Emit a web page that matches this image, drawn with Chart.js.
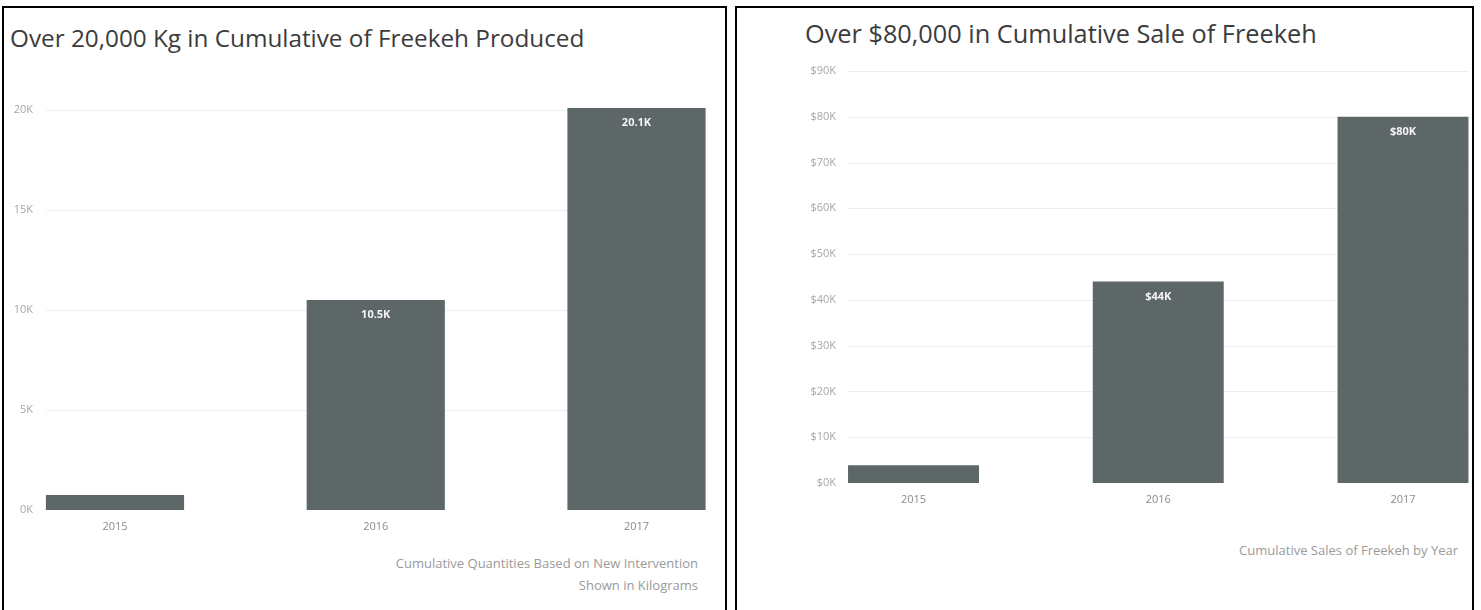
<!DOCTYPE html>
<html lang="en">
<head>
    <meta charset="UTF-8">
    <meta content="width=device-width, initial-scale=1.0" name="viewport">
    <title>Freekeh Production and Sales</title>
    <script src="https://cdn.jsdelivr.net/npm/chart.js"></script>
    <style>
        body {
            margin: 0;
            width: 1481px;
            height: 610px;
            overflow: hidden;
            position: relative;
            background: #fff;
            font-family: "Open Sans", Arial, sans-serif;
        }

        .panel {
            position: absolute;
            top: 6px;
            height: 620px;
            border: 2px solid #000;
            box-sizing: border-box;
        }

        .title {
            position: absolute;
            color: #3c3c3c;
            white-space: nowrap;
            line-height: 32px;
        }

        .caption {
            position: absolute;
            color: #9a9a9a;
            font-size: 13px;
            line-height: 22px;
            text-align: right;
            white-space: nowrap;
        }

        .chart-box {
            position: absolute;
        }
    </style>
</head>
<body>
<div class="panel" style="left: 2px; width: 725px;"></div>
<div class="panel" style="left: 735px; width: 739px;"></div>

<div class="title" style="left: 10px; top: 22px; font-size: 24.3px;">Over 20,000 Kg in Cumulative of Freekeh Produced</div>
<div class="title" style="left: 805px; top: 17px; font-size: 25.3px;">Over $80,000 in Cumulative Sale of Freekeh</div>

<div class="chart-box" style="left: 0; top: 90px; width: 727px; height: 450px;">
    <canvas id="producedChart"></canvas>
</div>
<div class="chart-box" style="left: 735px; top: 60px; width: 739px; height: 453px;">
    <canvas id="salesChart"></canvas>
</div>

<div class="caption" style="right: 783px; top: 552px;">Cumulative Quantities Based on New Intervention<br>Shown in Kilograms</div>
<div class="caption" style="right: 23px; top: 539px;">Cumulative Sales of Freekeh by Year</div>

<script>
    const years = ['2015', '2016', '2017'];
    const producedKg = [750, 10500, 20100];
    const salesUsd = [3900, 44000, 80000];

    const BAR_COLOR = '#5e6768';

    Chart.defaults.font.family = '"Open Sans", Arial, sans-serif';
    Chart.defaults.animation = false;

    // horizontal gridlines spanning from the first bar's left edge to the last bar's right edge
    const wideGrid = {
        id: 'wideGrid',
        beforeDatasetsDraw(chart) {
            const bars = chart.getDatasetMeta(0).data;
            const first = bars[0].getProps(['x', 'width'], true);
            const last = bars[bars.length - 1].getProps(['x', 'width'], true);
            const x0 = first.x - first.width / 2;
            const x1 = last.x + last.width / 2;
            const yScale = chart.scales.y;
            const ctx = chart.ctx;
            ctx.save();
            ctx.strokeStyle = '#eeeeee';
            ctx.lineWidth = 1;
            yScale.ticks.forEach(tick => {
                if (tick.value === 0) return;
                const py = Math.round(yScale.getPixelForValue(tick.value)) + 0.5;
                ctx.beginPath();
                ctx.moveTo(x0, py);
                ctx.lineTo(x1, py);
                ctx.stroke();
            });
            ctx.restore();
        }
    };

    // value labels printed inside the top of bars that are tall enough
    function makeBarLabels(format) {
        return {
            id: 'barLabels',
            afterDatasetsDraw(chart) {
                const ctx = chart.ctx;
                const values = chart.data.datasets[0].data;
                ctx.save();
                ctx.font = 'bold 11px "Open Sans", Arial, sans-serif';
                ctx.fillStyle = '#f4f4f4';
                ctx.textAlign = 'center';
                ctx.textBaseline = 'middle';
                chart.getDatasetMeta(0).data.forEach((bar, i) => {
                    if (bar.base - bar.y < 40) return;
                    ctx.fillText(format(values[i]), bar.x, bar.y + 15);
                });
                ctx.restore();
            }
        };
    }

    function createBarChart(canvas, values, cfg) {
        return new Chart(canvas, {
            type: 'bar',
            data: {
                labels: years,
                datasets: [{
                    data: values,
                    backgroundColor: BAR_COLOR,
                    categoryPercentage: 1,
                    barPercentage: cfg.barPct,
                    clip: false
                }]
            },
            options: {
                responsive: true,
                maintainAspectRatio: false,
                layout: {padding: cfg.padding},
                plugins: {
                    legend: {display: false},
                    tooltip: {enabled: false}
                },
                scales: {
                    x: {
                        offset: false,
                        grid: {display: false},
                        border: {display: false},
                        ticks: {color: '#8a8a8a', font: {size: 11}, padding: cfg.xPad},
                        afterFit: s => { s.height = 30; }
                    },
                    y: {
                        min: 0,
                        max: cfg.max,
                        grid: {display: false},
                        border: {display: false},
                        ticks: {
                            stepSize: cfg.step,
                            color: '#a6a6a6',
                            font: {size: 11},
                            padding: cfg.yPad,
                            callback: cfg.tickFormat
                        },
                        afterFit: s => {
                            // labels sit far left of the first bar; keep that gap out of the vertical padding
                            s.width = cfg.yWidth;
                            s.paddingTop = 0;
                            s.paddingBottom = 0;
                        }
                    }
                }
            },
            plugins: [wideGrid, makeBarLabels(cfg.labelFormat)]
        });
    }

    createBarChart(document.getElementById('producedChart'), producedKg, {
        barPct: 0.53,
        padding: {top: 20, right: 90.5, bottom: 0, left: 0},
        max: 20000,
        step: 5000,
        yWidth: 115,
        yPad: 74,
        xPad: 2,
        tickFormat: v => (v / 1000) + 'K',
        labelFormat: v => (v / 1000).toFixed(1) + 'K'
    });

    createBarChart(document.getElementById('salesChart'), salesUsd, {
        barPct: 0.535,
        padding: {top: 11, right: 71, bottom: 0, left: 0},
        max: 90000,
        step: 10000,
        yWidth: 178.5,
        yPad: 69.5,
        xPad: 2,
        tickFormat: v => '$' + (v / 1000) + 'K',
        labelFormat: v => '$' + Math.round(v / 1000) + 'K'
    });
</script>
</body>
</html>
